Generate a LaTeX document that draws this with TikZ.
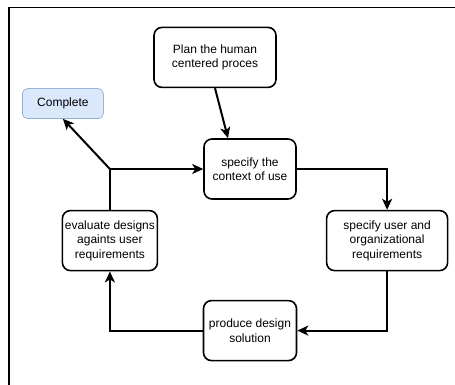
\documentclass[tikz,border=0pt]{standalone}
\usepackage{fontspec}
\setmainfont{Liberation Sans}
\usetikzlibrary{arrows.meta,positioning}

\definecolor{donefill}{HTML}{DAE8FC}
\definecolor{doneline}{HTML}{6C8EBF}

\begin{document}
\begin{tikzpicture}[x=1pt,y=-1pt,
     align=center,
     font=\fontsize{12}{14.5}\selectfont,
     >={Stealth[length=11pt,width=10pt,inset=3pt]},
     flow/.style={draw,line width=2pt,->},
     proc/.style={rectangle,rounded corners=8pt,draw,line width=1.6pt,minimum height=60pt,inner sep=1pt},
     done/.style={rectangle,rounded corners=5pt,draw=doneline,fill=donefill,minimum width=81pt,minimum height=30pt}]

    \useasboundingbox (0,0) rectangle (455,385);
    \draw[line width=1.6pt] (9,386) -- (9,7.5) -- (456,7.5);

    \node[proc,minimum width=92pt] (context) at (250,169) {specify the\\context of use};

    \node[proc,minimum width=122pt] (plan) [above=50pt of context,xshift=-35pt] {Plan the human\\centered proces};

    \node[proc,minimum width=121pt] (userreq) [below right=10pt and 29pt of context] {specify user and\\organizational\\requirements};

    \node[proc,minimum width=93pt] (design) [below=100pt of context] {produce design\\solution};

    \node[proc,minimum width=95pt] (evaluate) [below left=10pt and 45pt of context] {evaluate designs\\againts user\\requirements};

    \node[done] (complete) [above=91pt of evaluate,xshift=-47pt] {Complete};

    \coordinate (fork) at (evaluate.north |- context.west);

    \draw[flow] (plan.south) -- ([xshift=-22pt]context.north);
    \draw[flow] (context.east) -| (userreq.north);
    \draw[flow] (userreq.south) |- (design.east);
    \draw[flow] (design.west) -| (evaluate.south);
    \draw[flow] (evaluate.north) |- (context.west);
    \draw[flow] (fork) -- (complete.south);

\end{tikzpicture}
\end{document}
